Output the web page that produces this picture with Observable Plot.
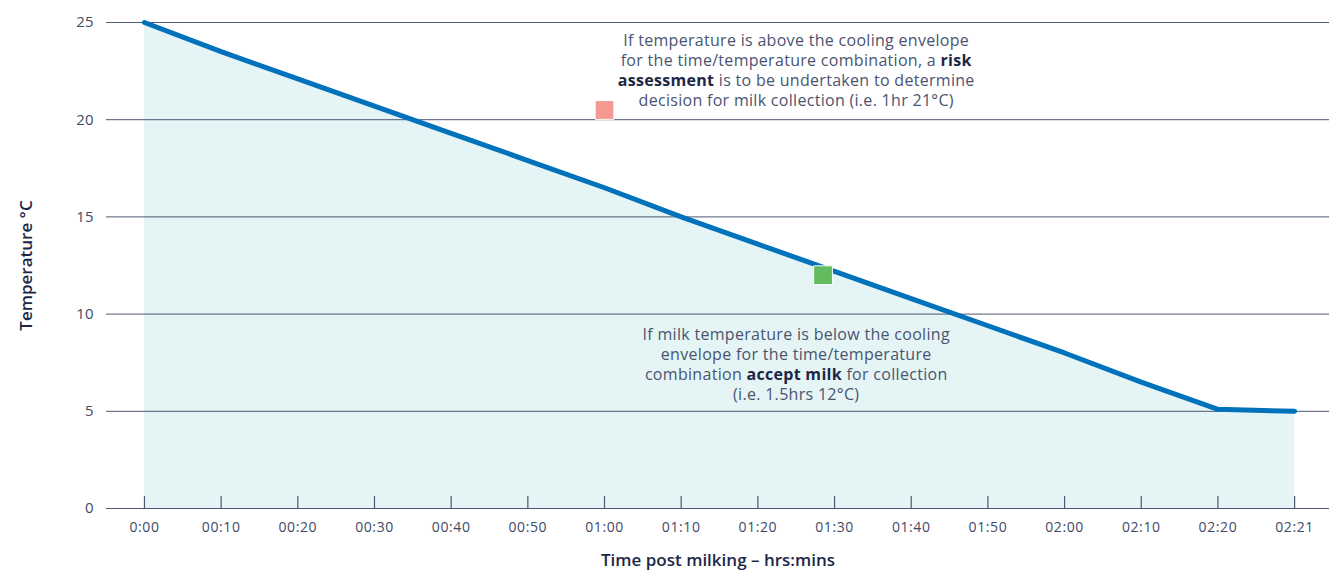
<!DOCTYPE html>
<html>
<head>
<meta charset="utf-8">
<script src="https://cdn.jsdelivr.net/npm/d3@7"></script>
<script src="https://cdn.jsdelivr.net/npm/@observablehq/plot@0.6"></script>
<style>
  html, body { margin: 0; padding: 0; background: #ffffff; }
  #chart svg { display: block; }
</style>
</head>
<body>
<div id="chart"></div>
<script>
// ---- data ----
const timeLabels = ["0:00","00:10","00:20","00:30","00:40","00:50","01:00","01:10","01:20","01:30","01:40","01:50","02:00","02:10","02:20","02:21"];
const temperatures = [25, 23.5, 22.1, 20.7, 19.3, 17.9, 16.5, 15.0, 13.6, 12.2, 10.8, 9.4, 8.0, 6.5, 5.1, 5.0];
const yTicks = [0, 5, 10, 15, 20, 25];
const markerNames = ["risk", "accept"];
const markerX = [6, 8.85];
const markerY = [20.5, 12.0];
const markerColors = ["#f59a93", "#63bb5f"];
const noteLines = [
  "If temperature is above the cooling envelope\nfor the time/temperature combination, a **risk**\n**assessment** is to be undertaken to determine\ndecision for milk collection (i.e. 1hr 21°C)",
  "If milk temperature is below the cooling\nenvelope for the time/temperature\ncombination **accept milk** for collection\n(i.e. 1.5hrs 12°C)"
];
const noteX = [8.5, 8.5];
const noteY = [22.6, 7.45];

// ---- tables ----
const envelope = timeLabels.map((t, i) => ({i, label: t, temp: temperatures[i]}));
const markers = markerNames.map((n, k) => ({name: n, x: markerX[k], y: markerY[k], color: markerColors[k]}));
const notes = noteLines.map((t, k) => ({text: t, x: noteX[k], y: noteY[k]}));
const xIdx = d3.range(timeLabels.length);

const chart = Plot.plot({
  width: 1329,
  height: 571,
  marginLeft: 106,
  marginRight: 0,
  marginTop: 22,
  marginBottom: 63,
  style: {fontFamily: "'Open Sans', 'Noto Sans', sans-serif", fontSize: "14px", color: "#3f4a68", background: "#ffffff"},
  x: {domain: [-0.495, 15.455]},
  y: {domain: [0, 25]},
  marks: [
    Plot.areaY(envelope, {x: "i", y: "temp", fill: "#e5f4f4"}),
    Plot.ruleY(yTicks, {stroke: "#4d5872", strokeWidth: 1}),
    Plot.ruleX(xIdx, {x: d => d, y1: () => 0, y2: () => 0, insetTop: -12, stroke: "#4d5872", strokeWidth: 1.2}),
    Plot.axisY(yTicks, {tickSize: 0, tickPadding: 13, fontSize: 15, fill: "#3f4a68",
      label: "Temperature °C", labelAnchor: "center", labelArrow: "none", labelOffset: 87}),
    Plot.axisX(xIdx, {tickSize: 0, tickPadding: 14, fontSize: 14, fill: "#3f4a68",
      tickFormat: i => timeLabels[i],
      label: "Time post milking – hrs:mins", labelAnchor: "center", labelArrow: "none", labelOffset: 57}),
    Plot.line(envelope, {x: "i", y: "temp", stroke: "#0071bb", strokeWidth: 5, strokeLinecap: "round", strokeLinejoin: "round"}),
    Plot.dot(markers, {x: "x", y: "y", symbol: "square", r: 10.6, fill: "color", stroke: "#ffffff", strokeWidth: 1}),
    Plot.text(notes, {x: "x", y: "y", text: "text", lineAnchor: "middle", lineHeight: 1.25, fontSize: 16, fill: "#4a5470", textAnchor: "middle"})
  ]
});

document.getElementById("chart").appendChild(chart);

// axis tick labels: slight letter spacing
chart.querySelectorAll('g[aria-label="x-axis tick label"] text').forEach(t => t.setAttribute("letter-spacing", "0.6"));

// annotation letter spacing
chart.querySelectorAll('g[aria-label="text"] text').forEach(t => t.setAttribute("letter-spacing", "0.3"));

// style axis labels
chart.querySelectorAll('g[aria-label="x-axis label"] text, g[aria-label="y-axis label"] text').forEach(t => {
  t.setAttribute("fill", "#1c2748");
  t.setAttribute("font-size", "17");
  t.setAttribute("font-weight", "600");
});

// bold segments inside annotations (marked with **)
chart.querySelectorAll('g[aria-label="text"] tspan').forEach(ts => {
  const s = ts.textContent;
  if (!s.includes("**")) return;
  const parts = s.split("**");
  ts.textContent = "";
  parts.forEach((p, k) => {
    if (!p) return;
    const sp = document.createElementNS("http://www.w3.org/2000/svg", "tspan");
    sp.textContent = p;
    if (k % 2 === 1) { sp.setAttribute("font-weight", "bold"); sp.setAttribute("fill", "#1c2748"); }
    ts.appendChild(sp);
  });
});
</script>
</body>
</html>
